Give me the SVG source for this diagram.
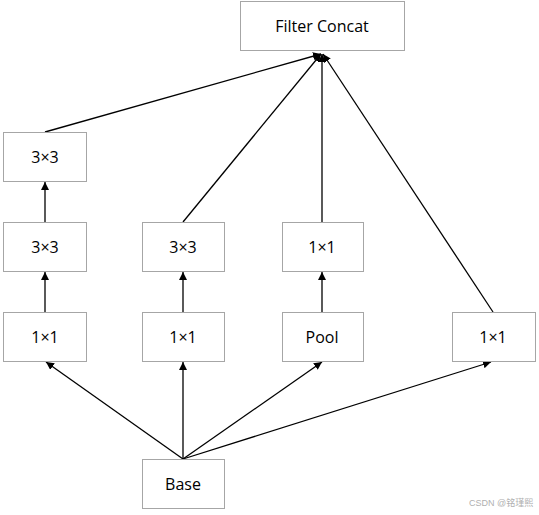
<svg xmlns="http://www.w3.org/2000/svg" width="539" height="515" viewBox="0 0 539 515">
<style>
.box{fill:#fff;stroke:#a6a6a6;stroke-width:1}
.lbl{font-family:"Open Sans","Liberation Sans",sans-serif;font-size:16px;fill:#000;text-anchor:middle;dominant-baseline:central}
.c{stroke:#000;stroke-width:1.3;fill:none;marker-end:url(#ah)}
.wm{font-family:"Liberation Sans","Noto Sans CJK SC",sans-serif;font-size:9px;fill:#b0b0b0}
</style>
<defs>
<marker id="ah" viewBox="0 0 10 10" refX="10" refY="5" markerWidth="8" markerHeight="8" markerUnits="userSpaceOnUse" orient="auto">
<path d="M0,0 L10,5 L0,10 z" fill="#000"/>
</marker>
</defs>
<rect width="539" height="515" fill="#fff"/>
<g id="connectors">
<line class="c" x1="183" y1="459" x2="46" y2="362"/>
<line class="c" x1="183" y1="459" x2="183" y2="362"/>
<line class="c" x1="183" y1="459" x2="322" y2="362"/>
<line class="c" x1="183" y1="459" x2="491" y2="362"/>
<line class="c" x1="45" y1="312" x2="45" y2="272"/>
<line class="c" x1="45" y1="222" x2="45" y2="182"/>
<line class="c" x1="183" y1="312" x2="183" y2="272"/>
<line class="c" x1="322" y1="312" x2="322" y2="272"/>
<line class="c" x1="45" y1="132" x2="321" y2="54"/>
<line class="c" x1="183" y1="222" x2="321" y2="54"/>
<line class="c" x1="322" y1="222" x2="322" y2="54"/>
<line class="c" x1="493" y1="312" x2="323" y2="54"/>
</g>
<g id="filter_concat"><rect class="box" x="240.5" y="1.5" width="164" height="49"/><text class="lbl" x="322" y="26">Filter Concat</text></g>
<g id="n3x3_a"><rect class="box" x="3.5" y="132.5" width="83" height="49"/><text class="lbl" x="45" y="157">3×3</text></g>
<g id="n3x3_b"><rect class="box" x="3.5" y="222.5" width="83" height="49"/><text class="lbl" x="45" y="247">3×3</text></g>
<g id="n1x1_a"><rect class="box" x="3.5" y="312.5" width="83" height="49"/><text class="lbl" x="45" y="337">1×1</text></g>
<g id="n3x3_c"><rect class="box" x="142.5" y="222.5" width="82" height="49"/><text class="lbl" x="183" y="247">3×3</text></g>
<g id="n1x1_b"><rect class="box" x="142.5" y="312.5" width="82" height="49"/><text class="lbl" x="183" y="337">1×1</text></g>
<g id="n1x1_c"><rect class="box" x="282.5" y="222.5" width="81" height="49"/><text class="lbl" x="322" y="247">1×1</text></g>
<g id="pool"><rect class="box" x="282.5" y="312.5" width="81" height="49"/><text class="lbl" x="322" y="337">Pool</text></g>
<g id="n1x1_d"><rect class="box" x="452.5" y="312.5" width="83" height="49"/><text class="lbl" x="493" y="337">1×1</text></g>
<g id="base"><rect class="box" x="142.5" y="459.5" width="82" height="49"/><text class="lbl" x="183" y="484">Base</text></g>
<text class="wm" x="469" y="506">CSDN @铭瑾熙</text>
</svg>
